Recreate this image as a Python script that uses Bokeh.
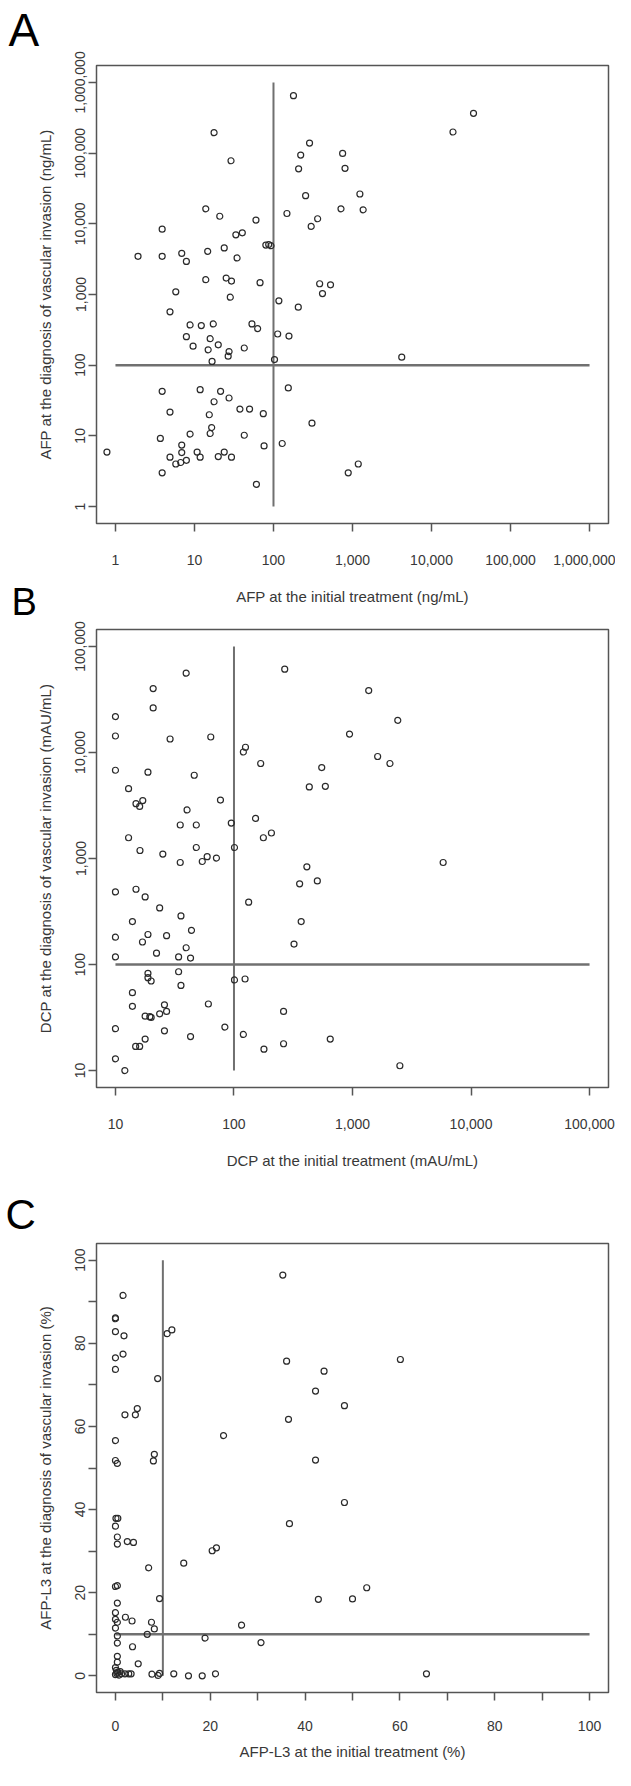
from bokeh.plotting import figure
from bokeh.models import Range1d, FixedTicker, NumeralTickFormatter, Label
from bokeh.layouts import column
from bokeh.embed import file_html
from bokeh.resources import INLINE

# ---------------- data ----------------
# Panel A: AFP (ng/mL)
a_initial = [179, 34000, 18700, 17.7, 286, 221, 750, 29, 208, 804,
             255, 1240, 13.9, 715, 1364, 20.9, 60, 148, 362, 300,
             3.9, 33.4, 40.3, 80, 87, 93, 1.93, 3.9, 6.9, 7.9,
             14.7, 23.8, 34.6, 13.9, 25.2, 29.4, 67.6, 384, 527,
             5.8, 417, 28.4, 117, 206, 4.9, 8.8, 12.2, 17.3, 53.4,
             63, 7.9, 15.8, 20, 9.6, 14.9, 27.4, 26.7, 42.7, 113,
             157, 16.7, 103, 4200,
             3.9, 11.8, 21.4, 154, 17.7, 27.4, 4.9, 37.6, 49.8, 15.4,
             74.3, 307, 16.5, 15.8, 3.7, 8.8, 42.7, 6.9, 6.9, 76,
             129, 0.78, 4.9, 10.8, 11.8, 23.8, 20, 29.4, 5.8, 6.7,
             7.9, 3.9, 60.8, 883, 1183]
a_vascular = [650000, 366000, 199000, 195000, 139000, 94000, 99000, 78000, 60000, 61000,
              25000, 26400, 16300, 16300, 15800, 12800, 11300, 14000, 11800, 9200,
              8400, 6980, 7450, 5000, 5100, 4900, 3470, 3470, 3830, 2940,
              4080, 4560, 3290, 1620, 1710, 1550, 1470, 1420, 1370,
              1090, 1030, 916, 813, 661, 568, 371, 363, 383, 383,
              329, 253, 237, 194, 186, 165, 156, 134, 175, 276,
              258, 113, 120, 130,
              42.7, 45, 42.7, 47.6, 30.4, 34.3, 21.7, 23.9, 23.9, 19.9,
              20.6, 15.1, 13.1, 10.8, 9.2, 10.6, 10.2, 7.4, 5.8, 7.2,
              7.8, 5.9, 5.0, 5.9, 5.0, 5.9, 5.1, 5.0, 4.0, 4.2,
              4.5, 3.0, 2.06, 3.0, 4.0]
a_cutoff = 100
a_ticks = [1, 10, 100, 1000, 10000, 100000, 1000000]

# Panel B: DCP (mAU/mL)
b_initial = [268, 39.5, 1370, 20.8, 20.8, 2410, 10, 10, 28.9, 63.7,
             944, 125, 120, 1630, 168, 2070, 10, 18.8, 46.2, 550,
             12.9, 432, 590, 17, 14.9, 16, 76.9, 40.2, 152, 35.2,
             48.1, 94.9, 207, 177, 12.9,
             16.1, 25.1, 48.1, 35.2, 54, 59.4, 71.1, 101, 5820, 412,
             358, 505, 10, 14.9, 17.8, 133, 23.6, 35.7, 13.9, 369,
             43.8, 10, 18.8, 27, 16.9, 321, 39.5, 22.2, 10, 34.1,
             43, 34.1, 18.8, 18.8, 20, 101, 124, 35.7, 13.9, 13.9,
             25.9, 27, 23.6, 60.8, 17.8, 20, 19.5, 262, 10, 25.9,
             83.8, 43, 120, 17.8, 649, 14.8, 16, 262, 179, 10,
             12, 2510]
b_vascular = [61000, 56000, 38400, 40100, 26300, 20100, 21800, 14300, 13400, 14000,
              14900, 11200, 10100, 9160, 7870, 7870, 6800, 6520, 6100, 7210,
              4560, 4730, 4800, 3520, 3290, 3100, 3560, 2870, 2390, 2070,
              2070, 2160, 1740, 1570, 1570,
              1190, 1100, 1270, 917, 937, 1040, 1010, 1270, 917, 834,
              577, 615, 484, 513, 434, 387, 342, 287, 254, 254,
              210, 181, 192, 187, 163, 156, 144, 128, 118, 118,
              115, 85.5, 82.6, 75.1, 69.9, 71.5, 73, 63.5, 54.2, 40.3,
              41.7, 36.1, 34.3, 42.4, 32.6, 31.7, 32.2, 36.1, 24.8, 23.7,
              25.7, 20.9, 21.9, 19.8, 19.8, 16.9, 16.9, 17.9, 15.9, 12.9,
              10, 11.1]
b_cutoff = 100
b_ticks = [10, 100, 1000, 10000, 100000]

# Panel C: AFP-L3 (%)
c_initial = [35.3, 1.6, 0, 0, 0, 1.8, 10.9, 11.9, 0, 1.6,
             0, 36.1, 60.1, 44.0, 8.9, 42.2, 48.3, 2.0, 4.2, 4.6,
             36.5, 22.8, 0, 0, 0.4, 8.0, 8.2, 42.2, 48.3, 36.7,
             0.1, 0.5, 0, 0.4, 0.4, 2.5, 3.8, 20.4, 21.3, 14.4,
             7.0, 0, 0.4, 53.0, 42.8, 50.0, 9.3, 0.4, 0, 2.1,
             0, 0.4, 3.5, 7.6, 26.6, 0, 8.2, 6.7, 0.4, 18.9,
             0.4, 30.7, 3.6, 0.4, 0.4, 4.8, 0,
             0, 0.3, 0.5, 0.8, 1.0, 1.3, 2.0, 2.8, 3.3, 0.2,
             7.7, 9.0, 9.3, 12.3, 15.4, 18.3, 21.1, 65.6]
c_vascular = [96.4, 91.5, 86.1, 85.9, 82.8, 81.8, 82.3, 83.2, 76.5, 77.4,
              73.7, 75.7, 76.1, 73.3, 71.5, 68.5, 65.0, 62.8, 62.8, 64.3,
              61.7, 57.8, 56.6, 51.8, 51.1, 51.7, 53.3, 51.9, 41.7, 36.6,
              37.9, 37.9, 36.0, 33.4, 31.7, 32.3, 32.1, 30.1, 30.8, 27.1,
              26.0, 21.5, 21.7, 21.2, 18.4, 18.5, 18.6, 17.5, 15.2, 14.1,
              13.6, 12.9, 13.2, 12.9, 12.2, 11.5, 11.3, 10.0, 9.6, 9.1,
              7.9, 8.0, 7.0, 4.7, 3.3, 2.9, 2.0,
              0.3, 0.6, 0.9, 0.2, 1.0, 0.5, 0.5, 0.5, 0.5, 1.3,
              0.4, 0.1, 0.6, 0.5, 0.0, 0.0, 0.5, 0.5]
c_cutoff = 10
c_ticks = [0, 20, 40, 60, 80, 100]
c_minor_ticks = [10, 30, 50, 70, 90]

titles = {
    "A": ("AFP at the initial treatment (ng/mL)",
          "AFP at the diagnosis of vascular invasion (ng/mL)"),
    "B": ("DCP at the initial treatment (mAU/mL)",
          "DCP at the diagnosis of vascular invasion (mAU/mL)"),
    "C": ("AFP-L3 at the initial treatment (%)",
          "AFP-L3 at the diagnosis of vascular invasion (%)"),
}

# ---------------- styling ----------------
FONT = "Liberation Sans"
W = 615
FRAME_W = 512
BORDER_L = 96
BORDER_R = W - BORDER_L - FRAME_W
TXT = "#383838"
BOX = "#555555"
REF = "#707070"


def make_fig(height, top, frame_h, xr, yr, xtype, ytype, xlab, ylab):
    bottom = height - top - frame_h
    p = figure(width=W, height=height, x_range=xr, y_range=yr,
               x_axis_type=xtype, y_axis_type=ytype, title=None,
               output_backend="svg", toolbar_location=None,
               min_border_left=BORDER_L, min_border_right=BORDER_R,
               min_border_top=top, min_border_bottom=bottom)
    p.grid.visible = False
    p.outline_line_color = BOX
    p.outline_line_width = 1.5
    p.background_fill_color = "white"
    p.border_fill_color = "white"
    for ax in (p.xaxis, p.yaxis):
        ax.axis_line_color = None
        ax.major_tick_in = 0
        ax.major_tick_out = 8
        ax.major_tick_line_color = BOX
        ax.major_tick_line_width = 1.5
        ax.minor_tick_line_color = None
        ax.major_label_text_font = FONT
        ax.major_label_text_font_size = "14px"
        ax.major_label_text_color = TXT
        ax.axis_label_text_font = FONT
        ax.axis_label_text_font_size = "15px"
        ax.axis_label_text_font_style = "normal"
        ax.axis_label_text_color = TXT
    p.xaxis.major_label_standoff = 23
    p.xaxis.axis_label_standoff = 20
    p.yaxis.major_label_standoff = 3
    p.yaxis.axis_label_standoff = 19
    p.yaxis.major_label_orientation = "vertical"
    p.xaxis.axis_label = xlab
    p.yaxis.axis_label = ylab
    return p


def add_points(p, xs, ys):
    p.scatter(xs, ys, marker="circle", size=6, fill_color=None,
              line_color="#2a2a2a", line_width=1.2)


def add_cutoffs(p, cut, lo, hi):
    p.segment(x0=[cut], y0=[lo], x1=[cut], y1=[hi], line_color=REF, line_width=2)
    p.segment(x0=[lo], y0=[cut], x1=[hi], y1=[cut], line_color=REF, line_width=2.5)


def letter(p, text, x, y, size, place):
    p.add_layout(Label(x=x, y=y, x_units="screen", y_units="screen", text=text,
                       text_font=FONT, text_font_size=size, text_color="black",
                       text_baseline="alphabetic"), place)


def log_range(ticks):
    pad = 10 ** (0.04 * (len(ticks) - 1))
    return Range1d(ticks[0] / pad, ticks[-1] * pad)


# ---- Panel A ----
hA, tA, fA = 620, 65, 458
pA = make_fig(hA, tA, fA, log_range(a_ticks), log_range(a_ticks), "log", "log",
              *titles["A"])
for ax in (pA.xaxis, pA.yaxis):
    ax.ticker = FixedTicker(ticks=a_ticks)
    ax.formatter = NumeralTickFormatter(format="0,0")
add_cutoffs(pA, a_cutoff, a_ticks[0], a_ticks[-1])
add_points(pA, a_initial, a_vascular)
letter(pA, "A", -88, 36, "46px", "above")
letter(pA, "B", 3, -78, "38px", "left")

# ---- Panel B ----
hB, tB, fB = 552, 9, 458
pB = make_fig(hB, tB, fB, log_range(b_ticks), log_range(b_ticks), "log", "log",
              *titles["B"])
for ax in (pB.xaxis, pB.yaxis):
    ax.ticker = FixedTicker(ticks=b_ticks)
    ax.formatter = NumeralTickFormatter(format="0,0")
add_cutoffs(pB, b_cutoff, b_ticks[0], b_ticks[-1])
add_points(pB, b_initial, b_vascular)

# ---- Panel C ----
hC, tC, fC = 590, 71, 457
pad_c = 0.04 * (c_ticks[-1] - c_ticks[0])
pC = make_fig(hC, tC, fC, Range1d(c_ticks[0] - pad_c, c_ticks[-1] + pad_c),
              Range1d(c_ticks[0] - pad_c, c_ticks[-1] + pad_c), "linear", "linear",
              *titles["C"])
for ax in (pC.xaxis, pC.yaxis):
    ax.ticker = FixedTicker(ticks=c_ticks, minor_ticks=c_minor_ticks)
    ax.minor_tick_line_color = BOX
    ax.minor_tick_line_width = 1.5
    ax.minor_tick_in = 0
    ax.minor_tick_out = 8
pC.xaxis.major_label_standoff = 20
pC.xaxis.axis_label_standoff = 9
add_cutoffs(pC, c_cutoff, c_ticks[0], c_ticks[-1])
add_points(pC, c_initial, c_vascular)
letter(pC, "C", -91, 29.5, "42px", "above")

layout = column(pA, pB, pC, spacing=0)
open("out.html", "w").write(file_html(layout, INLINE, "AFP DCP AFP-L3 scatter"))
